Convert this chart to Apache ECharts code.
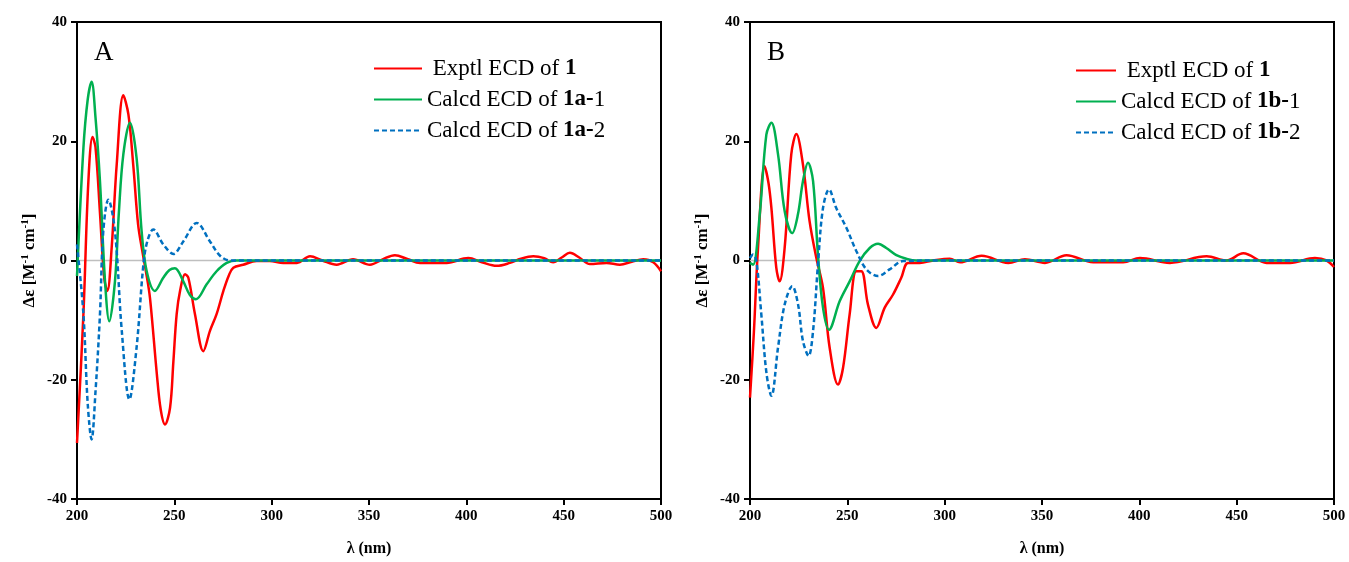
<!DOCTYPE html>
<html><head><meta charset="utf-8">
<script src="https://cdn.jsdelivr.net/npm/echarts@6/dist/echarts.min.js"></script>
<style>html,body{margin:0;padding:0;background:#fff}#c{width:1349px;height:562px}</style>
</head><body><div id="c"></div>
<script>
// Panel A
const aExpX = [200,203.3,205.8,208,209.5,211.8,214,215.6,217.8,220.4,223.8,226.4,228.9,231.4,233.6,235.5,237.5,241,243,245.2,247.8,249.5,251.2,253,255.5,257.2,260.6,264.9,268.3,271.7,275.2,278,280.3,285.4,292.3,299,306,313,319.7,326,333.4,341.8,350.5,357,363.3,370,376.2,389.9,401,408,415.6,422.4,428,434.4,440,444.6,449,453.2,458,463.5,472,478.9,485,490.9,496,500];
const aExpY = [-30.6,-9,13,20.7,19,8,-3,-5.1,2.1,16.1,27.7,24.5,16,6,1.5,-2,-6.3,-19,-25,-27.5,-24.7,-17,-9,-5,-2.3,-2.9,-9,-15.2,-11.8,-9,-5.1,-2.5,-1.2,-0.7,-0.1,-0.1,-0.4,-0.4,0.7,0,-0.7,0.2,-0.7,0.2,0.9,0.2,-0.4,-0.4,0.4,-0.3,-0.9,-0.4,0.3,0.7,0.4,-0.3,0.5,1.3,0.5,-0.6,-0.4,-0.7,-0.2,0.2,-0.3,-1.8];
const aC1X = [200,203.3,205.5,207.5,209.5,211.8,214.4,216.6,219.5,221.5,223.8,227.2,230.6,233.2,235.8,240,244.3,247.5,250.3,254.6,258,261.1,266.6,271.7,276.9,282,300,350,400,450,500];
const aC1Y = [-2.6,18.9,27,30,24,13.3,-3.5,-10.2,-3.5,8,17.8,23.1,17.2,4.9,-1.8,-5.1,-2.9,-1.6,-1.3,-3.5,-5.8,-6.5,-4,-1.8,-0.4,0,0,0,0,0,0];
const aC2X = [200,203.3,205.5,207.5,209.5,211.8,213.5,216.1,219.5,223,226.9,230.6,234.1,236.1,239.2,244.3,249.5,254.6,261.5,268.3,273.5,278.6,300,350,400,450,500];
const aC2Y = [2.7,-9,-24,-30,-22,-9,4.9,10.2,4.9,-11.8,-23.3,-14.6,-0.7,3.2,5.2,2.7,1.1,3.2,6.3,3.2,0.8,0,0,0,0,0,0];
// Panel B
const bExpX = [200,202,204.1,207.5,209.5,211,213.5,215.2,217.8,221.2,223.8,227.2,230.6,234.1,237.5,240.9,245.2,247.8,251.2,254.6,257.2,260.6,264.9,269.2,273.5,277.7,281.2,287.2,294,302.6,307.9,319,332.7,341.2,351.5,362.6,376.3,391.7,400.3,415.7,434.6,444.8,453.4,465.4,477.4,490.2,496.2,500];
const bExpY = [-23,-12,2,15.8,13,8.8,-1.2,-3.5,2.1,17.8,21.2,16.1,6.6,0.4,-4.6,-14.6,-20.8,-18,-9,-1.8,-1.8,-7.4,-11.3,-7.9,-5.7,-2.9,-0.4,-0.4,0,0.3,-0.3,0.8,-0.4,0.2,-0.4,0.9,-0.3,-0.3,0.4,-0.4,0.7,0,1.2,-0.4,-0.4,0.4,0,-1.1];
const bC1X = [200,201.6,205,208.4,211,214.4,217.8,221.7,224.6,227.2,229.8,232.4,234.9,237.5,240.6,246.1,251.2,256.3,261.5,265.8,270,275.2,280.3,285.4,300,350,400,450,500];
const bC1Y = [-0.4,-0.7,7.7,21.1,23.1,17.8,8.3,4.6,7.7,13.3,16.4,13.3,1,-7.9,-11.6,-6.8,-3.5,-0.1,2.1,2.8,2.1,0.9,0.3,0,0,0,0,0,0];
const bC2X = [200,201.6,203.3,205.8,208.5,211,214.4,217.8,221.7,224.7,227.2,230.1,232.4,234.9,237.5,240.6,244.3,249.5,254.6,259.8,265.8,271.7,278.6,300,350,400,450,500];
const bC2Y = [0.4,1,-0.1,-9,-19,-22.7,-14.6,-7.4,-4.3,-7.4,-13.5,-16,-11.8,-0.7,8.8,11.9,8.8,5.5,1.6,-1.5,-2.6,-1.5,-0.1,0,0,0,0,0,0];
const xTicks = [200,250,300,350,400,450,500];
const yTicks = [-40,-20,0,20,40];

const zip = (xs, ys) => xs.map((x, i) => [x, ys[i]]);
const F = '"Liberation Serif","Times New Roman",serif';
const RED = '#ff0000', GREEN = '#00b050', BLUE = '#0070c0';

function xAx(gi) {
  return {
    gridIndex: gi, type: 'value', min: 200, max: 500, interval: 50,
    name: 'λ (nm)', nameLocation: 'middle', nameGap: 42,
    nameTextStyle: {fontFamily: F, fontWeight: 'bold', fontSize: 16, color: '#000'},
    axisLine: {show: true, onZero: false, lineStyle: {color: '#000', width: 2}},
    axisTick: {show: true, length: 6, lineStyle: {color: '#000', width: 2}},
    axisLabel: {fontFamily: F, fontWeight: 'bold', fontSize: 15, color: '#000', margin: 10},
    splitLine: {show: false}
  };
}
function yAx(gi) {
  return {
    gridIndex: gi, type: 'value', min: -40, max: 40, interval: 20,
    name: '{t|Δε [M}{s|-1}{t| cm}{s|-1}{t|]}', nameLocation: 'middle', nameGap: 38, nameRotate: 90,
    nameTextStyle: {fontFamily: F, fontWeight: 'bold', fontSize: 17, color: '#000',
      rich: {t: {fontFamily: F, fontWeight: 'bold', fontSize: 17, color: '#000'},
             s: {fontFamily: F, fontWeight: 'bold', fontSize: 11, color: '#000', verticalAlign: 'top', padding: [0,0,8,0]}}},
    axisLine: {show: true, onZero: false, lineStyle: {color: '#000', width: 2}},
    axisTick: {show: true, length: 6, lineStyle: {color: '#000', width: 2}},
    axisLabel: {fontFamily: F, fontWeight: 'bold', fontSize: 15, color: '#000', margin: 10},
    splitLine: {show: false}
  };
}
function ln(name, data, color, gi, dashed) {
  return {
    name, type: 'line', xAxisIndex: gi, yAxisIndex: gi, data,
    smooth: 0.35, showSymbol: false, symbol: 'none',
    lineStyle: {color, width: 2.5, type: dashed ? [5, 3] : 'solid'},
    itemStyle: {color}, z: 3
  };
}
function zero(gi) {
  return {type: 'line', xAxisIndex: gi, yAxisIndex: gi, data: [[200, 0], [500, 0]],
    showSymbol: false, symbol: 'none', silent: true, z: 1,
    lineStyle: {color: '#bfbfbf', width: 1.5}};
}
const bold = {
  'Exptl ECD of 1': '{n| Exptl ECD of }{b|1}',
  'Calcd ECD of 1a-1': '{n|Calcd ECD of }{b|1a-}{n|1}',
  'Calcd ECD of 1a-2': '{n|Calcd ECD of }{b|1a-}{n|2}',
  'Calcd ECD of 1b-1': '{n|Calcd ECD of }{b|1b-}{n|1}',
  'Calcd ECD of 1b-2': '{n|Calcd ECD of }{b|1b-}{n|2}'
};
function leg(left, top, names, w) {
  return {
    left, top, orient: 'vertical', itemWidth: w, itemHeight: 14, itemGap: 8,
    data: names, formatter: n => bold[n],
    itemStyle: {opacity: 0},
    textStyle: {fontFamily: F, fontSize: 23, color: '#000',
      rich: {n: {fontFamily: F, fontSize: 23, color: '#000'},
             b: {fontFamily: F, fontSize: 23, fontWeight: 'bold', color: '#000'}}}
  };
}
const chart = echarts.init(document.getElementById('c'), null, {renderer: 'canvas'});
chart.setOption({
  animation: false,
  backgroundColor: '#fff',
  grid: [
    {left: 77, right: 688, top: 22, bottom: 63, show: true, borderColor: '#000', borderWidth: 2, backgroundColor: 'transparent'},
    {left: 750, right: 15, top: 22, bottom: 63, show: true, borderColor: '#000', borderWidth: 2, backgroundColor: 'transparent'}
  ],
  xAxis: [xAx(0), xAx(1)],
  yAxis: [yAx(0), yAx(1)],
  legend: [
    leg(368, 52, ['Exptl ECD of 1', 'Calcd ECD of 1a-1', 'Calcd ECD of 1a-2'], 48),
    leg(1070, 54, ['Exptl ECD of 1', 'Calcd ECD of 1b-1', 'Calcd ECD of 1b-2'], 40)
  ],
  graphic: [
    {type: 'text', left: 94, top: 39, style: {text: 'A', font: '27px ' + F, fill: '#000'}},
    {type: 'text', left: 767, top: 39, style: {text: 'B', font: '27px ' + F, fill: '#000'}}
  ],
  series: [
    zero(0), zero(1),
    ln('Exptl ECD of 1', zip(aExpX, aExpY), RED, 0),
    ln('Calcd ECD of 1a-1', zip(aC1X, aC1Y), GREEN, 0),
    ln('Calcd ECD of 1a-2', zip(aC2X, aC2Y), BLUE, 0, true),
    ln('Exptl ECD of 1', zip(bExpX, bExpY), RED, 1),
    ln('Calcd ECD of 1b-1', zip(bC1X, bC1Y), GREEN, 1),
    ln('Calcd ECD of 1b-2', zip(bC2X, bC2Y), BLUE, 1, true)
  ]
});
</script></body></html>
